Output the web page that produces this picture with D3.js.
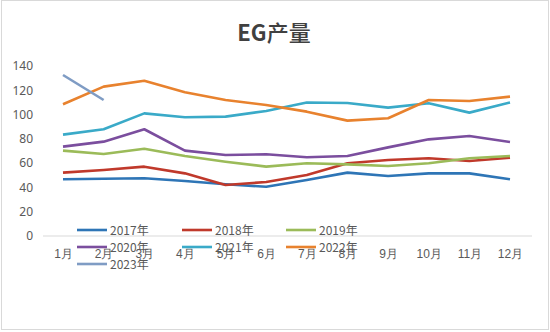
<!DOCTYPE html>
<html><head><meta charset="utf-8">
<script src="https://cdn.jsdelivr.net/npm/d3@7"></script>
<style>body{margin:0;background:#fff;}svg{display:block;font-family:"Noto Sans CJK SC","Noto Sans",sans-serif;}</style>
</head><body><svg id="c" width="550" height="332"></svg>
<script>
const months = ["1月","2月","3月","4月","5月","6月","7月","8月","9月","10月","11月","12月"];
const seriesNames = ["2017年","2018年","2019年","2020年","2021年","2022年","2023年"];
const v2017 = [46.7,47.2,47.6,45.3,42.6,40.6,46.1,52.2,49.4,51.6,51.6,46.7];
const v2018 = [52.2,54.4,57.1,51.6,42.0,44.5,50.2,59.9,62.6,64.0,61.8,64.5];
const v2019 = [70.3,67.5,71.9,65.9,61.2,57.1,59.9,59.0,57.7,59.9,64.0,65.9];
const v2020 = [73.6,77.7,87.9,70.3,66.7,67.3,64.8,65.9,73.0,79.6,82.4,77.4];
const v2021 = [83.5,87.9,101.0,97.8,98.3,103.0,110.0,109.5,105.7,109.3,101.6,110.0];
const v2022 = [108.5,123.0,127.9,118.4,112.0,107.9,102.4,95.0,97.0,112.0,111.2,114.8];
const v2023 = [132.6,112.0];
const colors = ["#2E75B6","#C0392B","#9BBB59","#7B4E9E","#3AAAC8","#E8822E","#7F9CC4"];
const yTicks = [0,20,40,60,80,100,120,140];
const allValues = [v2017,v2018,v2019,v2020,v2021,v2022,v2023];

const svg = d3.select("#c");
svg.append("rect").attr("x",1.5).attr("y",0.5).attr("width",547).attr("height",329)
  .attr("fill","#fff").attr("stroke","#d9d9d9");
const title = svg.append("text").attr("x",274).attr("y",41).attr("text-anchor","middle")
  .attr("font-size",22).attr("fill","#404040");
title.append("tspan").attr("font-weight","bold").text("EG");
title.append("tspan").attr("font-weight","500").text("产量");

const x = d3.scalePoint().domain(months).range([63,510]);
const y = d3.scaleLinear().domain([0,140]).range([236,66]);

// y axis labels
const ya = svg.append("g").attr("transform","translate(33,0)")
  .call(d3.axisLeft(y).tickValues(yTicks).tickSize(0).tickPadding(0));
ya.select(".domain").remove();
ya.selectAll("text").attr("font-size",12).attr("fill","#595959")
  .attr("font-family","'Noto Sans',sans-serif");

// baseline
svg.append("line").attr("x1",43).attr("x2",532).attr("y1",236).attr("y2",236)
  .attr("stroke","#d9d9d9");

// x labels
const xa = svg.append("g").attr("transform","translate(0,249)")
  .call(d3.axisBottom(x).tickSize(0).tickPadding(0));
xa.select(".domain").remove();
xa.selectAll("text").attr("font-size",12).attr("fill","#595959");

const line = d3.line().x((d,i)=>x(months[i])).y(d=>y(d));
allValues.forEach((vals,k)=>{
  svg.append("path").datum(vals).attr("d",line).attr("fill","none")
    .attr("stroke",colors[k]).attr("stroke-width",2.6).attr("stroke-linejoin","round");
});

// legend
const legPos = [[77,230],[182,230],[286,230],[77,247],[182,247],[286,247],[77,264]];
seriesNames.forEach((n,k)=>{
  const [lx,ly] = legPos[k];
  svg.append("line").attr("x1",lx).attr("x2",lx+30).attr("y1",ly).attr("y2",ly)
    .attr("stroke",colors[k]).attr("stroke-width",2.6);
  svg.append("text").attr("x",lx+33).attr("y",ly+5).attr("font-size",12)
    .attr("fill","#595959").text(n);
});
</script></body></html>
